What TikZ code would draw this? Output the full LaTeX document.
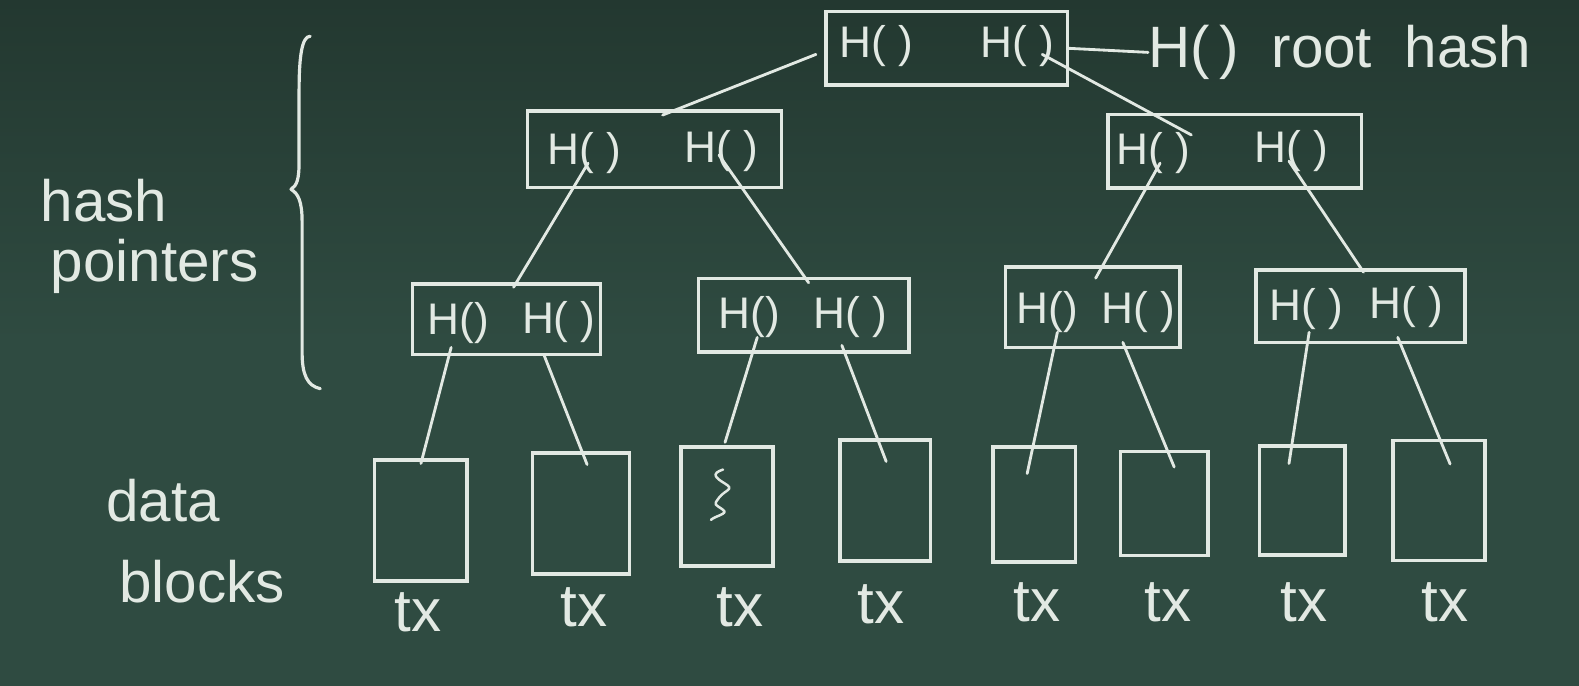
\documentclass[tikz,border=0pt]{standalone}
\usepackage{fontspec}
\setmainfont{Liberation Sans}
\usetikzlibrary{calc}
\definecolor{board}{HTML}{2F4B41}
\definecolor{boardtop}{HTML}{233830}
\definecolor{chalk}{HTML}{E2E9E3}
\begin{document}
\begin{tikzpicture}[x=0.02cm,y=-0.02cm,
  box/.style 2 args={draw=chalk, line width=2pt, inner sep=0pt,
    minimum width={#1*0.02cm}, minimum height={#2*0.02cm}},
  hl/.style={text=chalk, inner sep=0pt, font=\fontsize{25}{25}\selectfont},
  tx/.style={text=chalk, inner sep=0pt, font=\fontsize{34}{34}\selectfont},
  side/.style={text=chalk, inner sep=0pt, anchor=base west, font=\fontsize{33}{33}\selectfont},
  link/.style={draw=chalk, line width=1.6pt, line cap=round},
  chalkline/.style={draw=chalk, line width=1.8pt, line cap=round, line join=round}]
\useasboundingbox (0,0) rectangle (1568,681);
\shade[top color=boardtop, bottom color=board, middle color=board] (0,0) rectangle (1568,681);

% root
\node[box={240}{73}] (root) at (940,48) {};
\node[hl] (rA) at (870,46) {H( )};
\node[hl] (rB) at (1010,46) {H( )};
\node[text=chalk, inner sep=0pt, anchor=west, font=\fontsize{33}{33}\selectfont] (rh) at (1140,52) {H(\,)\ \ root\ \ hash};

% level 1
\node[box={252}{76}] (L1a) at (650,148) {};
\node[hl] (L1aA) at (580,152) {H( )};
\node[hl] (L1aB) at (716,150) {H( )};
\node[box={252}{73}] (L1b) at (1226,150) {};
\node[hl] (L1bA) at (1145,152) {H( )};
\node[hl] (L1bB) at (1282,150) {H( )};

% level 2
\node[box={187}{70}] (L2a) at (503,317) {};
\node[hl] (L2aA) at (455,321) {H()};
\node[hl] (L2aB) at (555,320) {H( )};
\node[box={209}{73}] (L2b) at (798,313) {};
\node[hl] (L2bA) at (744,315) {H()};
\node[hl] (L2bB) at (844,315) {H( )};
\node[box={173}{80}] (L2c) at (1085,305) {};
\node[hl] (L2cA) at (1040,310) {H()};
\node[hl] (L2cB) at (1130,310) {H( )};
\node[box={208}{72}] (L2d) at (1351,304) {};
\node[hl] (L2dA) at (1297,307) {H( )};
\node[hl] (L2dB) at (1397,305) {H( )};

% data blocks
\node[box={92}{120}] (D1) at (418,517) {};
\node[box={96}{120}] (D2) at (577,510) {};
\node[box={91}{118}] (D3) at (722,503) {};
\node[box={90}{120}] (D4) at (879,497) {};
\node[box={82}{114}] (D5) at (1027,501) {};
\node[box={87}{103}] (D6) at (1156,500) {};
\node[box={85}{108}] (D7) at (1293,497) {};
\node[box={91}{119}] (D8) at (1429,497) {};

% tx labels
\node[tx] (t1) at (415,608) {tx};
\node[tx] (t2) at (580,603) {tx};
\node[tx] (t3) at (735,603) {tx};
\node[tx] (t4) at (875,600) {tx};
\node[tx] (t5) at (1030,598) {tx};
\node[tx] (t6) at (1160,598) {tx};
\node[tx] (t7) at (1295,598) {tx};
\node[tx] (t8) at (1435,598) {tx};

% side labels
\node[side] (h1) at (40,220) {hash};
\node[side] (h2) at (50,280) {pointers};
\node[side] (d1) at (105,518) {data};
\node[side] (d2) at (118,598) {blocks};

% root hash connector
\draw[link] (root.east) -- (rh.west);

% tree connectors
\draw[link] ($(root.west)+(-8,6)$) -- ($(L1a.north)+(8,6)$);
\draw[link] ($(rB)+(25,8)$) -- ($(L1bA)+(38,-18)$);
\draw[link] ($(L1aA)+(4,10)$) -- ($(L2a.north)+(7,5)$);
\draw[link] ($(L1aB)+(-2,4)$) -- ($(L2b.north)+(5,6)$);
\draw[link] ($(L1bA)+(7,10)$) -- ($(L2c.north)+(3,13)$);
\draw[link] ($(L1bB)+(-2,10)$) -- ($(L2d.north)+(3,4)$);
\draw[link] ($(L2aA)+(-7,24)$) -- ($(D1.north)+(0,5)$);
\draw[link] ($(L2aB)+(-15,32)$) -- ($(D2.north)+(6,13)$);
\draw[link] ($(L2bA)+(8,20)$) -- ($(D3.north)+(-2,-3)$);
\draw[link] ($(L2bB)+(-8,28)$) -- ($(D4.north)+(1,23)$);
\draw[link] ($(L2cA)+(10,20)$) -- ($(D5.north)+(-7,28)$);
\draw[link] ($(L2cB)+(-15,30)$) -- ($(D6.north)+(10,17)$);
\draw[link] ($(L2dA)+(3,23)$) -- ($(D7.north)+(-13,19)$);
\draw[link] ($(L2dB)+(-9,30)$) -- ($(D8.north)+(11,25)$);

% squiggle in D3
\draw[chalkline, line width=1.4pt] ($(D3.north)+(-4,24)$) .. controls +(-12,4) and +(-10,-6) .. ++(2,14)
  .. controls +(10,6) and +(6,-8) .. ++(-6,14)
  .. controls +(-6,8) and +(-8,-6) .. ++(4,12)
  .. controls +(6,4) and +(4,-4) .. ++(-12,10);

% brace
\draw[chalkline] (308,36) .. controls (300,36) and (297,55) .. (297,90)
  -- (297,160) .. controls (297,178) and (295,184) .. (289,188)
  .. controls (296,192) and (300,200) .. (300,220)
  -- (300,350) .. controls (300,372) and (305,383) .. (318,386);
\end{tikzpicture}
\end{document}
